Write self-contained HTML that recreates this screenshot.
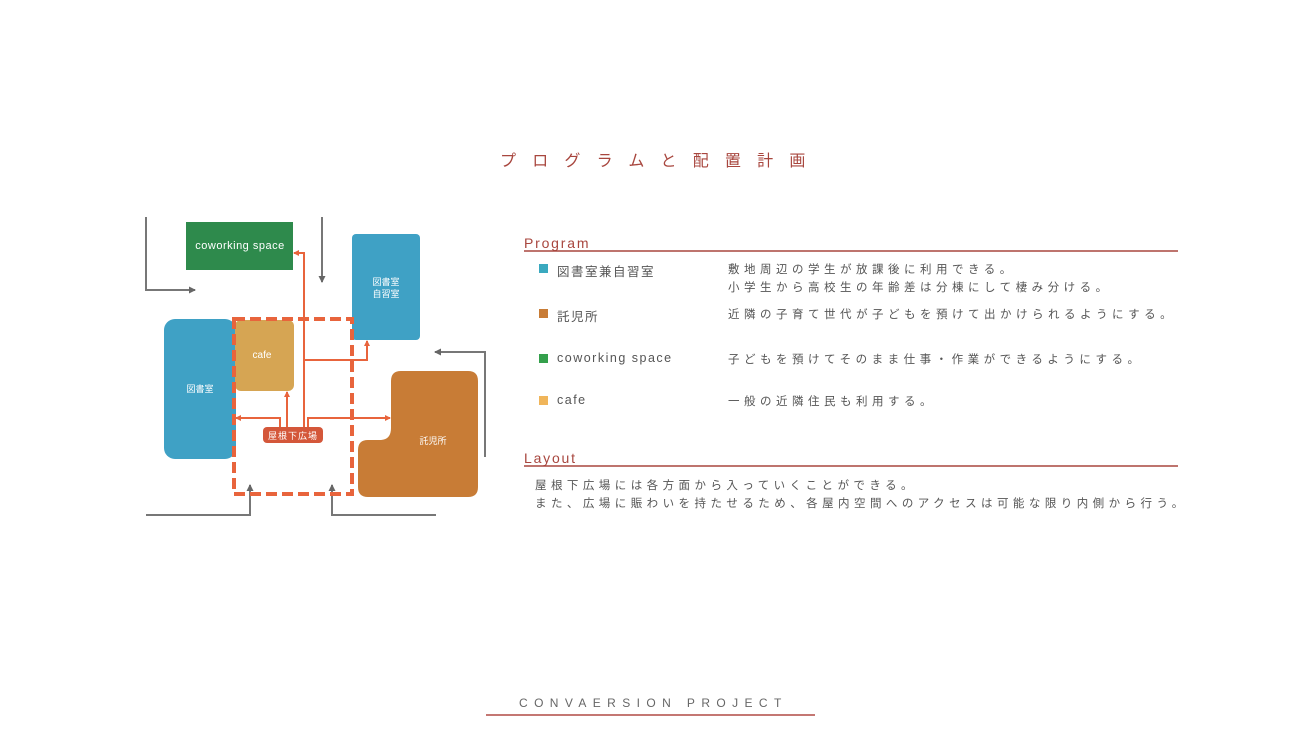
<!DOCTYPE html>
<html><head><meta charset="utf-8"><style>
body{margin:0;width:1300px;height:731px;background:#fff;position:relative;overflow:hidden;font-family:"Liberation Sans","Noto Sans CJK JP",sans-serif;}
.t{position:absolute;white-space:nowrap;}
.jp{font-size:11.5px;color:#555;letter-spacing:4.5px;}
.ly{font-size:11.5px;color:#555;letter-spacing:4.45px;}
.lb{font-size:12.5px;color:#555;letter-spacing:1.5px;}
.sq{position:absolute;width:9px;height:9px;}
</style></head><body>
<div class="t" style="left:500px;top:147px;font-size:16px;letter-spacing:16.2px;color:#a8463e;">プログラムと配置計画</div>

<svg style="position:absolute;left:0;top:0" width="1300" height="731">
<defs>
<marker id="ao" markerWidth="6" markerHeight="6" refX="5" refY="3" orient="auto" markerUnits="userSpaceOnUse"><path d="M0,0 L6,3 L0,6z" fill="#e8643c"/></marker>
<marker id="ag" markerWidth="7" markerHeight="7" refX="6" refY="3.5" orient="auto" markerUnits="userSpaceOnUse"><path d="M0,0 L7,3.5 L0,7z" fill="#666"/></marker>
</defs>
<g fill="none" stroke="#777" stroke-width="2">
<path d="M146 217 V290 H195" marker-end="url(#ag)"/>
<path d="M322 217 V282" marker-end="url(#ag)"/>
<path d="M485 457 V352 H435" marker-end="url(#ag)"/>
<path d="M146 515 H250 V485" marker-end="url(#ag)"/>
<path d="M436 515 H332 V485" marker-end="url(#ag)"/>
</g>
<rect x="186" y="222" width="107" height="48" fill="#2e8a4c"/>
<rect x="352" y="234" width="68" height="106" rx="4" fill="#3fa1c5"/>
<rect x="164" y="319" width="72" height="140" rx="11" fill="#3fa1c5"/>
<rect x="235" y="320" width="59" height="71" rx="6" fill="#d6a553"/>
<path d="M401 371 H468 Q478 371 478 381 V487 Q478 497 468 497 H368 Q358 497 358 487 V450 Q358 440 368 440 H380 Q391 440 391 428 V381 Q391 371 401 371Z" fill="#c87c36"/>
<rect x="234" y="319" width="118" height="175" fill="none" stroke="#e8643c" stroke-width="4" stroke-dasharray="11,5"/>
<g fill="none" stroke="#e8643c" stroke-width="2">
<path d="M304 428 V253 H294" marker-end="url(#ao)"/>
<path d="M304 360 H367 V341" marker-end="url(#ao)"/>
<path d="M287 428 V392" marker-end="url(#ao)"/>
<path d="M280 428 V418 H236" marker-end="url(#ao)"/>
<path d="M308 428 V418 H390" marker-end="url(#ao)"/>
</g>
<rect x="263" y="427" width="60" height="16" rx="4" fill="#d4573a"/>
<g font-family="Liberation Sans,Noto Sans CJK JP,sans-serif" fill="#fff" text-anchor="middle">
<text x="240" y="249" font-size="11" letter-spacing="0.5">coworking space</text>
<text x="386" y="285" font-size="9">図書室</text>
<text x="386" y="297" font-size="9">自習室</text>
<text x="200" y="392" font-size="9">図書室</text>
<text x="262" y="358" font-size="10">cafe</text>
<text x="433" y="444" font-size="9">託児所</text>
<text x="293" y="439" font-size="9" letter-spacing="1">屋根下広場</text>
</g>
<line x1="524" y1="251" x2="1178" y2="251" stroke="#a8463e" stroke-width="1.5"/>
<line x1="524" y1="466" x2="1178" y2="466" stroke="#a8463e" stroke-width="1.5"/>
<line x1="486" y1="715" x2="815" y2="715" stroke="#b04a45" stroke-width="1.5"/>
</svg>

<div class="t" style="left:524px;top:235px;font-size:14px;color:#a8463e;letter-spacing:1.8px;">Program</div>
<div class="t" style="left:524px;top:450px;font-size:14px;color:#a8463e;letter-spacing:1.8px;">Layout</div>

<div class="sq" style="left:539px;top:264px;background:#3aa9bf;"></div>
<div class="sq" style="left:539px;top:309px;background:#c87c36;"></div>
<div class="sq" style="left:539px;top:354px;background:#34a04c;"></div>
<div class="sq" style="left:539px;top:396px;background:#f0b55a;"></div>
<div class="t lb" style="left:557px;top:261px;">図書室兼自習室</div>
<div class="t lb" style="left:557px;top:306px;">託児所</div>
<div class="t lb" style="left:557px;top:351px;">coworking space</div>
<div class="t lb" style="left:557px;top:393px;">cafe</div>
<div class="t jp" style="left:728px;top:261px;">敷地周辺の学生が放課後に利用できる。</div>
<div class="t jp" style="left:728px;top:279px;">小学生から高校生の年齢差は分棟にして棲み分ける。</div>
<div class="t jp" style="left:728px;top:306px;">近隣の子育て世代が子どもを預けて出かけられるようにする。</div>
<div class="t jp" style="left:728px;top:351px;">子どもを預けてそのまま仕事・作業ができるようにする。</div>
<div class="t jp" style="left:728px;top:393px;">一般の近隣住民も利用する。</div>
<div class="t ly" style="left:535px;top:477px;">屋根下広場には各方面から入っていくことができる。</div>
<div class="t ly" style="left:535px;top:495px;">また、広場に賑わいを持たせるため、各屋内空間へのアクセスは可能な限り内側から行う。</div>

<div class="t" style="left:519px;top:696px;font-size:12px;color:#666;letter-spacing:6.4px;">CONVAERSION PROJECT</div>
</body></html>
